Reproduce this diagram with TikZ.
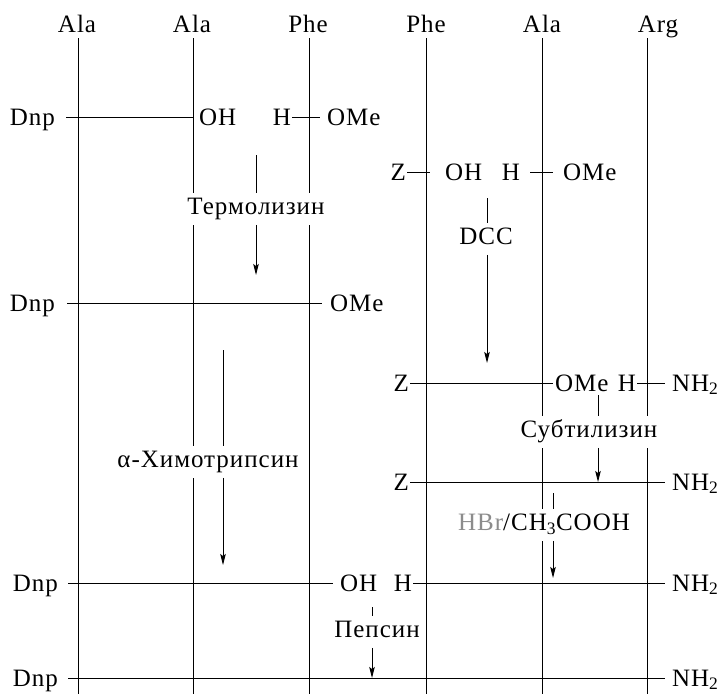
\documentclass[tikz,border=0pt]{standalone}
\usepackage{fontspec}
\setmainfont{Liberation Serif}[LetterSpace=4.0]
\usetikzlibrary{arrows.meta}
\newcommand\myfs{\fontsize{25}{29}\selectfont}
\tikzset{
  every node/.style={font=\myfs},
  strand/.style={line width=0.9pt},
  bond/.style={line width=0.9pt},
  arr/.style={line width=0.9pt,-{Stealth[length=11pt,width=5.5pt,inset=2pt]}},
  tk/.style={line width=0.9pt},
  t/.style={inner sep=0pt,text height=16.5pt,text depth=0pt},
  lt/.style={t,anchor=east,outer xsep=1pt},
  dn/.style={t,anchor=east,outer xsep=11pt},
  rt/.style={t,anchor=west,outer xsep=6pt},
  top/.style={anchor=base,inner sep=0pt},
  rg/.style={fill=white,inner xsep=2pt,inner ysep=4pt,text height=17.5pt,text depth=6pt}
}
\begin{document}
\begin{tikzpicture}[x=1pt,y=-1pt]
\useasboundingbox (0,0) rectangle (720,694);
% residue names
\node[top] (n1) at (77,32) {Ala};
\node[top] (n2) at (192,32) {Ala};
\node[top] (n3) at (308,32) {Phe};
\node[top] (n4) at (426,32) {Phe};
\node[top] (n5) at (542,32) {Ala};
\node[top] (n6) at (658,32) {Arg};
% strands
\foreach \i/\x in {1/78,2/193,3/309,4/426,5/542,6/647}{
  \coordinate (s\i t) at (\x,38);
  \coordinate (s\i b) at (\x,694);
  \draw[strand] (s\i t) -- (s\i b);
}
% reagent labels with arrows
\coordinate (a1) at (256,155); \coordinate (b1) at (256,275);
\node[rg] (L1) at (256,209) {Термолизин};
\coordinate (a2) at (487,198); \coordinate (b2) at (487,363);
\node[rg] (L2) at (486,239) {DCC};
\coordinate (a3) at (223,350); \coordinate (b3) at (223,565);
\node[rg] (L3) at (208,462) {α-Химотрипсин};
\coordinate (a4) at (598,395); \coordinate (b4) at (598,482);
\node[rg] (L4) at (589,432) {Субтилизин};
\coordinate (a5) at (553,493); \coordinate (b5) at (553,578);
\node[rg] (L5) at (544,525) {\textcolor{black!45}{HBr}/CH\textsubscript{3}COOH};
\coordinate (a6) at (372,607); \coordinate (b6) at (372,678);
\node[rg] (L6) at (377,632) {Пепсин};
\foreach \i in {1,...,6}{
  \draw[tk] (a\i) -- (a\i |- L\i.north);
  \draw[arr] (a\i |- L\i.south) -- (b\i);
}
% row 1
\node[dn] (d1) at (66,117) {Dnp};
\node[rt] (oh1) at (193,117) {OH};
\node[lt] (h1) at (292,117) {H};
\node[rt,outer xsep=7pt] (me1) at (320,117) {OMe};
\draw[bond] (d1) -- (oh1);
\draw[bond] (h1) -- (me1);
% row 2
\node[lt] (z2) at (407,172) {Z};
\node[rt,outer xsep=15pt] (oh2) at (430,172) {OH};
\node[lt,outer xsep=10pt] (h2) at (530,172) {H};
\node[rt,outer xsep=10pt] (me2) at (553,172) {OMe};
\draw[bond] (z2) -- (oh2);
\draw[bond] (h2) -- (me2);
% row 3
\node[dn,outer xsep=12pt] (d3) at (67,303) {Dnp};
\node[rt,outer xsep=8pt] (me3) at (322,303) {OMe};
\draw[bond] (d3) -- (me3);
% row 4
\node[lt] (z4) at (410,383) {Z};
\node[rt,outer xsep=2pt] (me4) at (553,383) {OMe};
\node[lt] (h4) at (637,383) {H};
\node[rt,outer xsep=7pt] (nh4) at (665,383) {NH\textsubscript{2}};
\draw[bond] (z4) -- (me4);
\draw[bond] (h4) -- (nh4);
% row 5
\node[lt] (z5) at (410,482) {Z};
\node[rt,outer xsep=7pt] (nh5) at (665,482) {NH\textsubscript{2}};
\draw[bond] (z5) -- (nh5);
% row 6
\node[dn,outer xsep=10pt] (d6) at (68,583) {Dnp};
\node[rt,outer xsep=7pt] (oh6) at (333,583) {OH};
\node[lt] (h6) at (413,583) {H};
\node[rt,outer xsep=7pt] (nh6) at (665,583) {NH\textsubscript{2}};
\draw[bond] (d6) -- (oh6);
\draw[bond] (h6) -- (nh6);
% row 7
\node[dn,outer xsep=10pt] (d7) at (68,678) {Dnp};
\node[rt,outer xsep=7pt] (nh7) at (665,678) {NH\textsubscript{2}};
\draw[bond] (d7) -- (nh7);
\end{tikzpicture}
\end{document}
